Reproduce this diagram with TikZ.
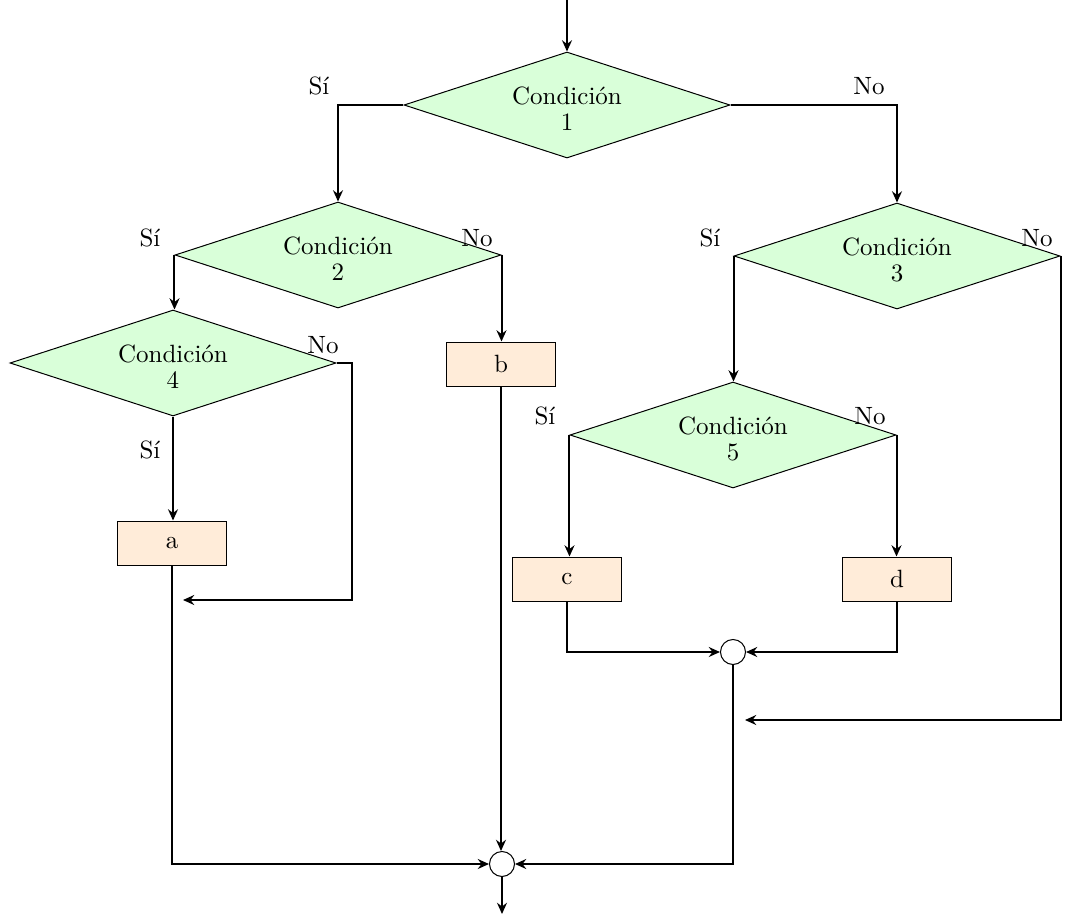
\documentclass[tikz,border=0pt]{standalone}
\usetikzlibrary{shapes.geometric,arrows.meta}
\newcommand{\condtext}[1]{\rule{0pt}{10.1pt}Condición\\[-1.6pt]#1}
\begin{document}
\begin{tikzpicture}[x=0.4pt,y=-0.4pt,
 cond/.style={diamond, draw, fill=green!15, aspect=3.08, minimum width=130.4pt, minimum height=42.4pt, inner sep=0pt, align=center, line width=0.4pt},
 proc/.style={rectangle, draw, fill=orange!15, minimum width=43.6pt, minimum height=17.6pt, inner sep=0pt, line width=0.4pt},
 junc/.style={circle, draw, fill=white, minimum size=10pt, inner sep=0pt, line width=0.4pt},
 flow/.style={line width=0.8pt, -{Stealth[length=4.5pt,width=4pt,inset=1.5pt]}},
 lab/.style={inner sep=0pt}]
\useasboundingbox (0,0) rectangle (1069,914);
\node[cond] (c1) at (567,105) {\condtext{1}};
\node[cond] (c2) at (338,255) {\condtext{2}};
\node[cond] (c3) at (897,256) {\condtext{3}};
\node[cond] (c4) at (173,363) {\condtext{4}};
\node[cond] (c5) at (733,435) {\condtext{5}};
\node[proc] (a) at (172,543) {a};
\node[proc] (b) at (501,364) {b};
\node[proc] (c) at (567,579) {c};
\node[proc] (d) at (897,579) {d};
\node[junc] (j2) at (733,652) {};
\node[junc] (j1) at (502,864) {};
\coordinate (start) at (567,0);
\coordinate (stop) at (502,914);
\coordinate (n4) at (183,600);
\coordinate (n3) at (745,720);
\node[lab] (s1) at (319,86) {Sí};
\node[lab] (no1) at (869,86) {No};
\node[lab] (s2) at (150,238) {Sí};
\node[lab] (no2) at (477,238) {No};
\node[lab] (s3) at (710,238) {Sí};
\node[lab] (no3) at (1037,238) {No};
\node[lab] (s4) at (150,450) {Sí};
\node[lab] (no4) at (323,345) {No};
\node[lab] (s5) at (545,416) {Sí};
\node[lab] (no5) at (870,416) {No};
\draw[flow] (start) -- (c1.north);
\draw[flow] (c1.west) -| (c2.north);
\draw[flow] (c1.east) -| (c3.north);
\draw[flow] (c2.west) -- (c2.west |- c4.north);
\draw[flow] (c2.east) -- (c2.east |- b.north);
\draw[flow] (c4.south) -- (c4.south |- a.north);
\draw[flow] (c4.east) -- ++(15,0) |- (n4);
\draw[flow] (a.south) |- (j1.west);
\draw[flow] (b.south) -- (b.south |- j1.north);
\draw[flow] (c3.west) -- (c3.west |- c5.north);
\draw[flow] (c3.east) |- (n3);
\draw[flow] (c5.west) -- (c5.west |- c.north);
\draw[flow] (c5.east) -- (c5.east |- d.north);
\draw[flow] (c.south) |- (j2.west);
\draw[flow] (d.south) |- (j2.east);
\draw[flow] (j2.south) |- (j1.east);
\draw[flow] (j1.south) -- (stop);
\end{tikzpicture}
\end{document}
